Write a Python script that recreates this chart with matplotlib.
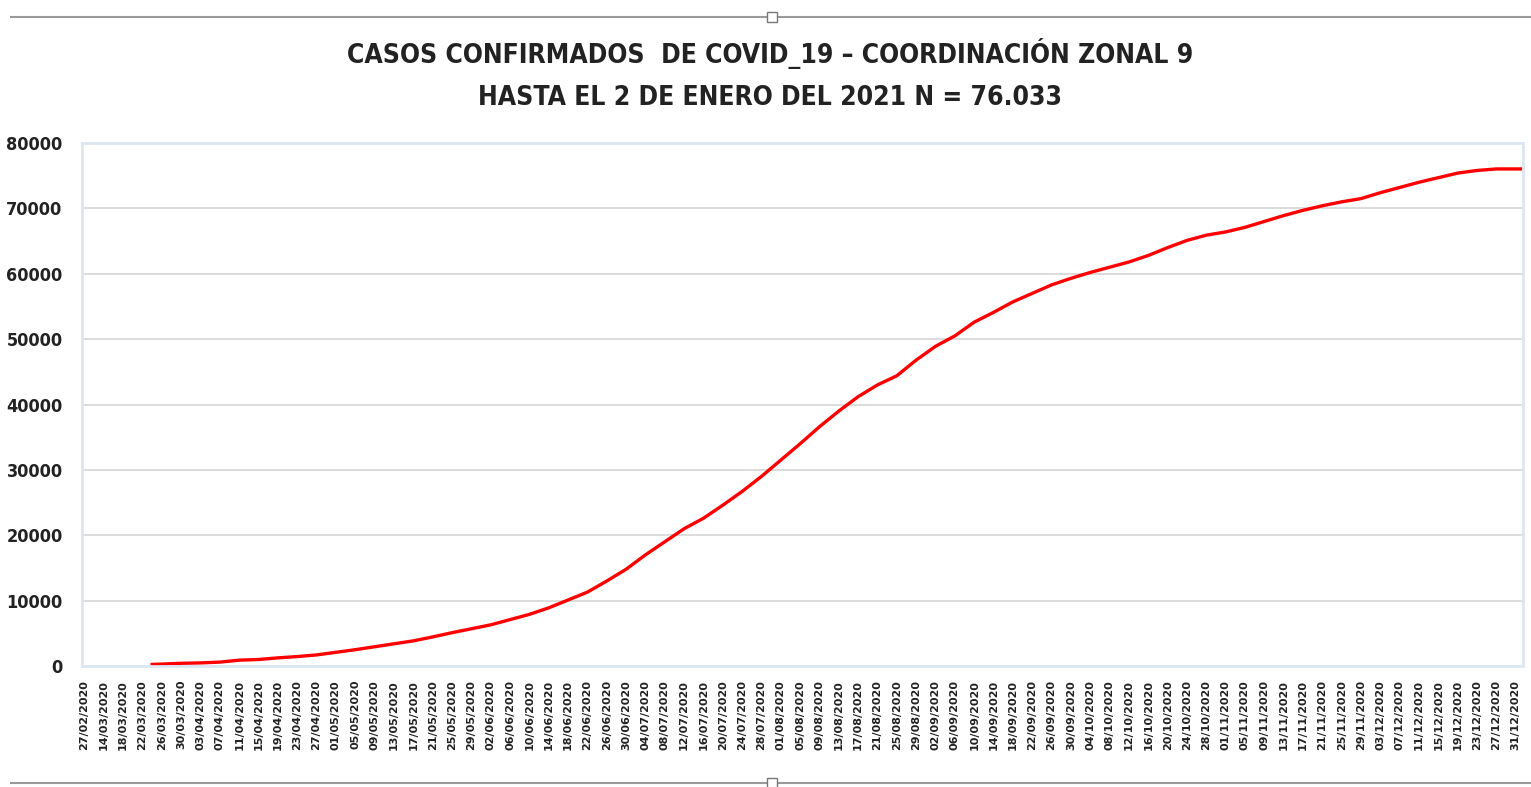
# coding=utf-8
import matplotlib
matplotlib.use("Agg")
from matplotlib import pyplot as plt
from matplotlib.lines import Line2D
import pandas as pd
import numpy as np

# categorias del eje (fechas de la serie, una por dia)
first_days = ["27/02/2020", "29/02/2020", "12/03/2020", "13/03/2020"]
daily = pd.date_range("2020-03-14", "2021-01-01").strftime("%d/%m/%Y").tolist()
categorias = first_days + daily

# casos acumulados leidos cada cuatro dias
fechas = [
    "24/03/2020", "26/03/2020", "30/03/2020", "03/04/2020", "07/04/2020", "11/04/2020",
    "15/04/2020", "19/04/2020", "23/04/2020", "27/04/2020", "01/05/2020", "05/05/2020",
    "09/05/2020", "13/05/2020", "17/05/2020", "21/05/2020", "25/05/2020", "29/05/2020",
    "02/06/2020", "06/06/2020", "10/06/2020", "14/06/2020", "18/06/2020", "22/06/2020",
    "26/06/2020", "30/06/2020", "04/07/2020", "08/07/2020", "12/07/2020", "16/07/2020",
    "20/07/2020", "24/07/2020", "28/07/2020", "01/08/2020", "05/08/2020", "09/08/2020",
    "13/08/2020", "17/08/2020", "21/08/2020", "25/08/2020", "29/08/2020", "02/09/2020",
    "06/09/2020", "10/09/2020", "14/09/2020", "18/09/2020", "22/09/2020", "26/09/2020",
    "30/09/2020", "04/10/2020", "08/10/2020", "12/10/2020", "16/10/2020", "20/10/2020",
    "24/10/2020", "28/10/2020", "01/11/2020", "05/11/2020", "09/11/2020", "13/11/2020",
    "17/11/2020", "21/11/2020", "25/11/2020", "29/11/2020", "03/12/2020", "07/12/2020",
    "11/12/2020", "15/12/2020", "19/12/2020", "23/12/2020", "27/12/2020", "31/12/2020",
    "01/01/2021",
]
casos = [
    250, 300, 420, 480, 600, 900,
    1000, 1250, 1450, 1700, 2100, 2500,
    2950, 3400, 3850, 4450, 5100, 5700,
    6300, 7100, 7900, 8900, 10100, 11300,
    13000, 14800, 17000, 19000, 21000, 22600,
    24600, 26700, 29000, 31500, 34000, 36600,
    39000, 41200, 43000, 44400, 46800, 48900,
    50500, 52600, 54100, 55700, 57000, 58300,
    59300, 60200, 61000, 61800, 62800, 64000,
    65100, 65900, 66400, 67100, 68000, 68900,
    69700, 70400, 71000, 71500, 72400, 73200,
    74000, 74700, 75400, 75800, 76033, 76033,
    76033,
]

titulo = "CASOS CONFIRMADOS  DE COVID_19 \u2013 COORDINACI\u00d3N ZONAL 9\nHASTA EL 2 DE ENERO DEL 2021 N = 76.033"

fam = ["DejaVu Sans"]

fig = plt.figure(figsize=(15.31, 7.87), dpi=100)
ax = fig.add_axes([0.0536, 0.1537, 0.9412, 0.6646])

pos = [categorias.index(f) for f in fechas]
ax.plot(pos, casos, color="#ff0000", linewidth=2.4, solid_joinstyle="miter")

ax.set_xlim(-0.5, len(categorias) - 0.5)
ax.set_ylim(0, 80000)
ax.set_yticks(range(0, 80001, 10000))
ax.set_yticklabels([str(v) for v in range(0, 80001, 10000)],
                   fontsize=13, fontweight="bold", family=fam,
                   fontstretch="condensed", color="#222222")
ax.set_xticks(range(0, len(categorias), 4))
ax.set_xticklabels(categorias[::4], rotation=90, fontsize=8,
                   fontweight="bold", color="#222222")
ax.tick_params(axis="both", length=0)
ax.tick_params(axis="y", pad=14)
ax.tick_params(axis="x", pad=10)

ax.grid(axis="y", color="#d9d9d9", linewidth=1.3)
ax.set_axisbelow(True)
for s in ax.spines.values():
    s.set_color("#dce6f2")
    s.set_linewidth(2)

fig.text(0.503, 0.905, titulo, ha="center", va="center", fontsize=19,
         fontweight="bold", family=fam, fontstretch="condensed",
         color="#222222", linespacing=1.8)

# marco del grafico incrustado
for yy in (0.978, 0.005):
    fig.add_artist(Line2D([0.007, 1.0], [yy, yy], color="#9a9a9a", linewidth=1.5))
    fig.add_artist(Line2D([0.5045], [yy], marker="s", markersize=7,
                          markerfacecolor="white", markeredgecolor="#777777"))

plt.savefig("out.png")
